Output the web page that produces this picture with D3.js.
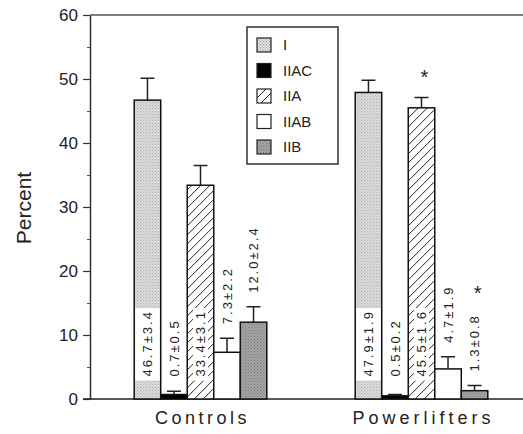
<!DOCTYPE html>
<html>
<head>
<meta charset="utf-8">
<script src="https://cdn.jsdelivr.net/npm/d3@7"></script>
<style>
  body { margin: 0; background: #fff; }
  text { font-family: "Liberation Sans", Arial, sans-serif; fill: #222; }
</style>
</head>
<body>
<div class="container"></div>
<script>
var groups = ['Controls', 'Powerlifters'];
var fiberTypes = ['I', 'IIAC', 'IIA', 'IIAB', 'IIB'];
var controlsMean = [46.7, 0.7, 33.4, 7.3, 12.0];
var controlsSE = [3.4, 0.5, 3.1, 2.2, 2.4];
var liftersMean = [47.9, 0.5, 45.5, 4.7, 1.3];
var liftersSE = [1.9, 0.2, 1.6, 1.9, 0.8];
var liftersSig = [false, false, true, false, true];
var yTicks = [0, 10, 20, 30, 40, 50, 60];

var W = 523, H = 434;
var translate = (x, y) => `translate(${ x },${ y })`;

var rows = groups.map((g, gi) => fiberTypes.map((t, ti) => ({
    group: g,
    type: t,
    mean: gi === 0 ? controlsMean[ti] : liftersMean[ti],
    se: gi === 0 ? controlsSE[ti] : liftersSE[ti],
    sig: gi === 1 && liftersSig[ti]
})));

var svg = d3.select('.container').append('svg')
    .attr('width', W)
    .attr('height', H);

// fills
var defs = svg.append('defs');
var stipple = (id, bg, dot) => {
    var p = defs.append('pattern').attr('id', id)
        .attr('patternUnits', 'userSpaceOnUse')
        .attr('width', 3).attr('height', 3);
    p.append('rect').attr('width', 3).attr('height', 3).attr('fill', bg);
    p.append('rect').attr('x', 0).attr('y', 0).attr('width', 1).attr('height', 1).attr('fill', dot);
    p.append('rect').attr('x', 1.5).attr('y', 1.5).attr('width', 1).attr('height', 1).attr('fill', dot);
};
stipple('dotLight', '#e0e0e0', '#a0a0a0');
stipple('dotDark', '#a9a9a9', '#6e6e6e');
var hatch = defs.append('pattern').attr('id', 'hatch')
    .attr('patternUnits', 'userSpaceOnUse')
    .attr('width', 9).attr('height', 9);
hatch.append('rect').attr('width', 9).attr('height', 9).attr('fill', '#fff');
hatch.append('path').attr('d', 'M-1,10 L10,-1 M-1,1 L1,-1 M8,10 L10,8')
    .attr('stroke', '#222').attr('stroke-width', 1);

var fills = {I: 'url(#dotLight)', IIAC: '#000', IIA: 'url(#hatch)', IIAB: '#fff', IIB: 'url(#dotDark)'};

var y = d3.scaleLinear().domain([0, 60]).range([399, 15]);
var x0 = d3.scaleBand().domain(groups).range([90, 532]).paddingInner(0.4).paddingOuter(0.2);
var x1 = d3.scaleBand().domain(fiberTypes).range([0, x0.bandwidth()]);

// y axis with minor ticks
svg.append('g')
    .attr('transform', translate(90, 0))
    .call(d3.axisLeft(y).tickValues(d3.range(5, 60, 10)).tickSize(3).tickFormat(''))
    .call(g => g.select('.domain').remove())
    .selectAll('line').attr('stroke', '#555');

var yAxis = svg.append('g')
    .attr('transform', translate(90, 0))
    .call(d3.axisLeft(y).tickValues(yTicks).tickSize(7).tickPadding(5).tickSizeOuter(0));
yAxis.select('.domain').attr('stroke', '#333').attr('stroke-width', 1.5);
yAxis.selectAll('.tick line').attr('stroke', '#333').attr('stroke-width', 1.2);
yAxis.selectAll('.tick text')
    .style('font-family', '"Liberation Sans", Arial, sans-serif')
    .style('font-size', '17px').attr('fill', '#333');

// top frame and baseline
svg.append('line').attr('x1', 90).attr('x2', W).attr('y1', y(60)).attr('y2', y(60))
    .attr('stroke', '#555').attr('stroke-width', 1.5);
svg.append('line').attr('x1', 83).attr('x2', W).attr('y1', y(0)).attr('y2', y(0))
    .attr('stroke', '#222').attr('stroke-width', 1.5);

svg.append('text')
    .attr('transform', translate(31, 208) + ' rotate(-90)')
    .attr('text-anchor', 'middle')
    .style('font-size', '21px')
    .attr('fill', '#222')
    .text('Percent');

// group labels
svg.selectAll('.groupLabel').data(groups).enter().append('text')
    .attr('x', d => x0(d) + x0.bandwidth() / 2 + 2)
    .attr('y', 424)
    .attr('text-anchor', 'middle')
    .style('font-size', '18px')
    .style('letter-spacing', d => d === 'Controls' ? '3.5px' : '4px')
    .text(d => d);

var gs = svg.selectAll('.grp').data(rows).enter().append('g')
    .attr('transform', (d, i) => translate(x0(groups[i]), 0));

var bw = x1.bandwidth();

// error bars
gs.selectAll('.err').data(d => d).enter().append('path')
    .attr('d', d => {
        var cx = x1(d.type) + bw / 2, top = y(d.mean + d.se);
        return `M${cx},${y(d.mean)}V${top}M${cx - 7},${top}H${cx + 7}`;
    })
    .attr('stroke', '#222').attr('stroke-width', 1.5).attr('fill', 'none');

// bars
gs.selectAll('.bar').data(d => d).enter().append('rect')
    .attr('x', d => x1(d.type))
    .attr('y', d => y(d.mean))
    .attr('width', bw)
    .attr('height', d => y(0) - y(d.mean))
    .attr('fill', d => fills[d.type])
    .attr('stroke', '#111').attr('stroke-width', 1.5);

// value labels: inside tall bars, above the error bar otherwise
var inside = d => d.mean > 20;
var labelStart = d => inside(d) ? y(3.5) : Math.min(y(3.5), y(d.mean + d.se) - 14);
var labels = gs.selectAll('.lab').data(d => d).enter().append('g')
    .attr('transform', d => translate(x1(d.type) + bw / 2, labelStart(d)) + ' rotate(-90)');
labels.append('rect').attr('class', 'bg');
labels.append('text')
    .attr('x', 0).attr('y', 0)
    .attr('dy', '0.35em')
    .style('font-size', '13px')
    .style('letter-spacing', '2px')
    .text(d => `${ d.mean.toFixed(1) }±${ d.se.toFixed(1) }`);
labels.each(function(d) {
    var g = d3.select(this);
    var len = g.select('text').node().getComputedTextLength();
    d.len = len;
    if (inside(d)) {
        var w = d.type === 'I' ? bw - 2 : 15;
        g.select('rect.bg')
            .attr('x', -4).attr('y', -w / 2)
            .attr('width', len + 6).attr('height', w)
            .attr('fill', '#fff');
    } else {
        g.select('rect.bg').remove();
    }
});

// significance marks
gs.selectAll('.sig').data(d => d.filter(r => r.sig)).enter().append('text')
    .attr('x', d => x1(d.type) + bw / 2 + 3)
    .attr('y', d => (inside(d) ? y(d.mean + d.se) : labelStart(d) - d.len) - 14)
    .attr('text-anchor', 'middle')
    .style('font-size', '20px')
    .attr('fill', '#555')
    .text('*');

// legend
var legend = svg.append('g').attr('transform', translate(247, 27));
legend.append('rect')
    .attr('width', 91).attr('height', 137)
    .attr('fill', '#fff').attr('stroke', '#333').attr('stroke-width', 1.5);
var items = legend.selectAll('.item').data(fiberTypes).enter().append('g')
    .attr('transform', (d, i) => translate(10, 11 + i * 25.5));
items.append('rect')
    .attr('width', 14).attr('height', 14)
    .attr('fill', d => fills[d])
    .attr('stroke', '#222').attr('stroke-width', 1.2);
items.append('text')
    .attr('x', 26).attr('y', 7)
    .attr('dy', '0.35em')
    .style('font-size', '15px')
    .text(d => d);
</script>
</body>
</html>
